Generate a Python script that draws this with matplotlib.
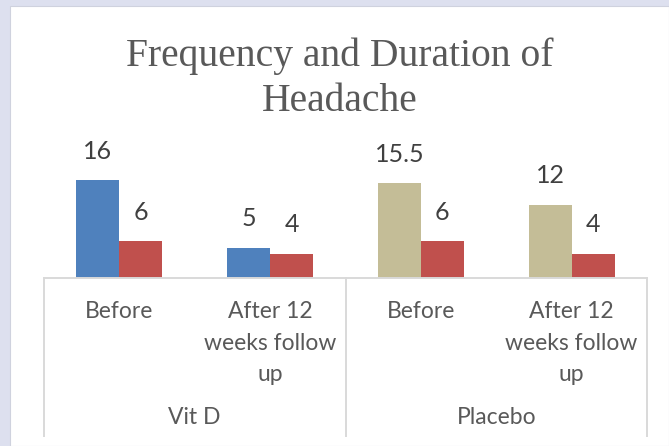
import matplotlib
matplotlib.use("Agg")
import matplotlib.pyplot as plt
from matplotlib.patches import Rectangle

# data
GROUPS = ["Vit D", "Placebo"]
TIMES = ["Before", "After 12\nweeks follow\nup", "Before", "After 12\nweeks follow\nup"]
SERIES1 = [16, 5, 15.5, 12]
SERIES2 = [6, 4, 6, 4]
COLORS1 = ["#4f81bd", "#4f81bd", "#c4bd97", "#c4bd97"]
COLOR2 = "#c0504d"

W, H = 669, 446
fig = plt.figure(figsize=(W / 100, H / 100), dpi=100)
fig.patch.set_facecolor("#dde0ef")

# white chart area with thin grey border
fig.patches.append(Rectangle((10 / W, 0), 1 - 10 / W, 1 - 6 / H, transform=fig.transFigure,
                             facecolor="white", edgecolor="#cfd2de", linewidth=0.8, zorder=-1))

ax_l, ax_r, base_y, top_y = 44, 647, 278, 156
ax = fig.add_axes([ax_l / W, (H - base_y) / H, (ax_r - ax_l) / W, (base_y - top_y) / H])
ax.set_facecolor("none")

x = [i + 0.5 for i in range(len(TIMES))]
bw = 0.285
b1 = ax.bar([v - bw / 2 for v in x], SERIES1, width=bw, color=COLORS1, zorder=2)
b2 = ax.bar([v + bw / 2 for v in x], SERIES2, width=bw, color=COLOR2, zorder=2)

for bars, vals in ((b1, SERIES1), (b2, SERIES2)):
    for r, v in zip(bars, vals):
        ax.annotate(f"{v:g}", (r.get_x() + r.get_width() / 2, v), xytext=(0, 21),
                    textcoords="offset points", ha="center", va="center",
                    fontsize=18, color="#404040", family="Lato", annotation_clip=False)

ax.set_xlim(0, 4)
ax.set_ylim(0, 20)
ax.set_xticks([])
ax.set_yticks([])
for s in ("top", "left", "right"):
    ax.spines[s].set_visible(False)
ax.spines["bottom"].set_color("#d9d9d9")
ax.spines["bottom"].set_linewidth(1.4)

# category axis separators and labels
tr = ax.get_xaxis_transform()
px = 1 / (base_y - top_y)
for xv in (0, 2, 4):
    ax.plot([xv, xv], [0, -(436 - base_y) * px], transform=tr, color="#d9d9d9",
            lw=1.4, clip_on=False)

for xv, lab in zip(x, TIMES):
    ax.text(xv, -(301 - base_y) * px, lab, transform=tr, ha="center", va="top",
            multialignment="center", fontsize=16.5, color="#595959", family="Lato",
            linespacing=1.63)

for i, g in enumerate(GROUPS):
    ax.text(2 * i + 1, -(418 - base_y) * px, g, transform=tr, ha="center", va="center",
            fontsize=16.5, color="#595959", family="Lato")

fig.text(0.5 * (1 + 10 / W), 1 - 79 / H, "Frequency and Duration of\nHeadache", ha="center",
         va="center", fontsize=28.5, color="#595959", family="Liberation Serif", linespacing=1.3)

fig.savefig("out.png", dpi=100, facecolor=fig.get_facecolor())
